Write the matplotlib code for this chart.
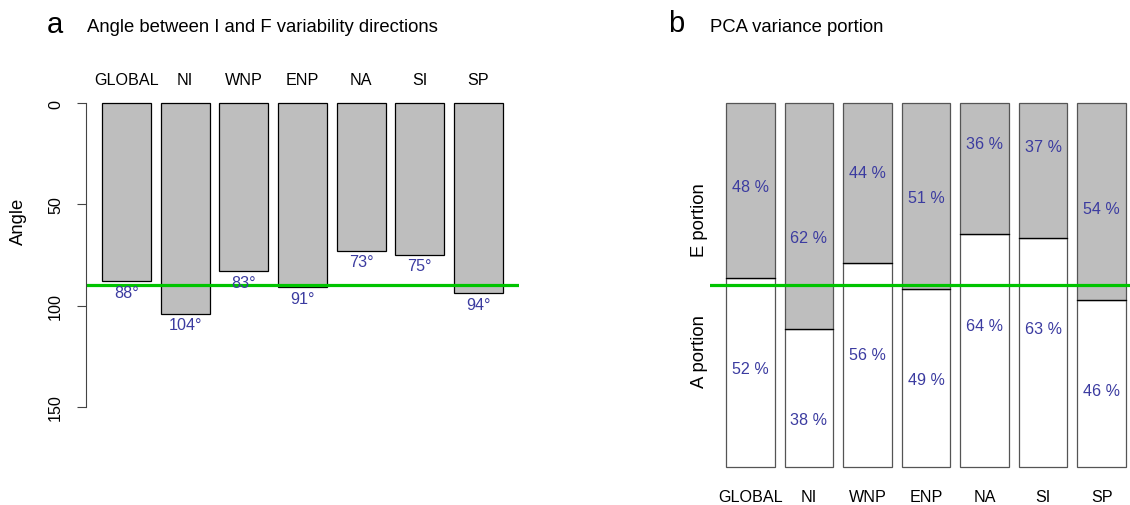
import numpy as np
import matplotlib
matplotlib.use("Agg")
import matplotlib.pyplot as plt

# data
regions = ["GLOBAL", "NI", "WNP", "ENP", "NA", "SI", "SP"]
angles = [88, 104, 83, 91, 73, 75, 94]
a_portion = [52, 38, 56, 49, 64, 63, 46]   # percent, bottom (white)
e_portion = [48, 62, 44, 51, 36, 37, 54]   # percent, top (grey)

plt.rcParams['font.family'] = ['Liberation Sans', 'DejaVu Sans']
txt_col = '#3b3ba0'
grey = '#bebebe'
edge = '#555555'
green = '#00c400'
fs = 11.6      # small text (ticks, names, values)
fs_big = 13.3  # titles and axis labels

W, H = 1130, 506
fig = plt.figure(figsize=(W / 100, H / 100), dpi=100)

def px_axes(x0, y0, x1, y1):
    # pixel box (from top-left) -> axes
    return fig.add_axes([x0 / W, 1 - y1 / H, (x1 - x0) / W, (y1 - y0) / H])

# R barplot style positions: width 1, space 0.2
x = 0.7 + 1.2 * np.arange(len(regions))
xlim = (0.2 - 0.328, 8.4 + 0.328)

# ---------------- panel a ----------------
ax = px_axes(86, 92, 519, 420)
ax.bar(x, angles, width=1, color=grey, edgecolor='black', linewidth=0.9)
ax.set_xlim(*xlim)
ax.set_ylim(156, -6)
ax.axhline(90, color=green, lw=2.3)
for s in ['top', 'right', 'bottom']:
    ax.spines[s].set_visible(False)
ax.spines['left'].set_bounds(0, 150)
ax.spines['left'].set_color('#444444')
ax.set_xticks([])
ax.set_yticks([0, 50, 100, 150])
ax.tick_params(axis='y', length=6.5, color='#444444', labelsize=fs, pad=10)
for lab in ax.get_yticklabels():
    lab.set_rotation(90)
    lab.set_va('center')
for xi, v, r in zip(x, angles, regions):
    ax.annotate(f'{v}\u00b0', (xi, v), xytext=(0, -2.5), textcoords='offset points',
                ha='center', va='top', color=txt_col, fontsize=fs)
    ax.text(xi, -11.8, r, ha='center', va='center', fontsize=fs)

fig.text(18 / W, 1 - 221 / H, 'Angle', rotation=90, fontsize=fs_big,
         ha='center', va='center')
fig.text(55 / W, 1 - 25 / H, 'a', fontsize=21, ha='center', va='center')
fig.text(87 / W, 1 - 27 / H, 'Angle between I and F variability directions',
         fontsize=fs_big, ha='left', va='center')

# ---------------- panel b ----------------
bx = px_axes(710, 89.4, 1142, 482.6)
a_frac = np.array(a_portion) / 100
e_frac = np.array(e_portion) / 100
bx.bar(x, a_frac, width=1, color='white', edgecolor=edge, linewidth=0.9)
bx.bar(x, e_frac, bottom=a_frac, width=1, color=grey, edgecolor=edge, linewidth=0.9)
bx.set_xlim(*xlim)
bx.set_ylim(-0.04, 1.04)
bx.axhline(0.5, color=green, lw=2.3)
bx.axis('off')
for xi, a, e, r in zip(x, a_frac, e_frac, regions):
    bx.plot([xi - 0.5, xi + 0.5], [a, a], color='black', lw=0.9)
    # labels sit a quarter below / above the split
    bx.text(xi, a - 0.25, f'{round(a * 100)} %', ha='center', va='center',
            color=txt_col, fontsize=fs)
    bx.text(xi, a + 0.25, f'{round(e * 100)} %', ha='center', va='center',
            color=txt_col, fontsize=fs)
    bx.text(xi, -0.08, r, ha='center', va='center', fontsize=fs)

fig.text(700 / W, 1 - 220 / H, 'E portion', rotation=90, fontsize=fs_big,
         ha='center', va='center')
fig.text(700 / W, 1 - 352 / H, 'A portion', rotation=90, fontsize=fs_big,
         ha='center', va='center')
fig.text(676 / W, 1 - 24 / H, 'b', fontsize=21, ha='center', va='center')
fig.text(710 / W, 1 - 27 / H, 'PCA variance portion',
         fontsize=fs_big, ha='left', va='center')

fig.savefig('out.png', dpi=100)
